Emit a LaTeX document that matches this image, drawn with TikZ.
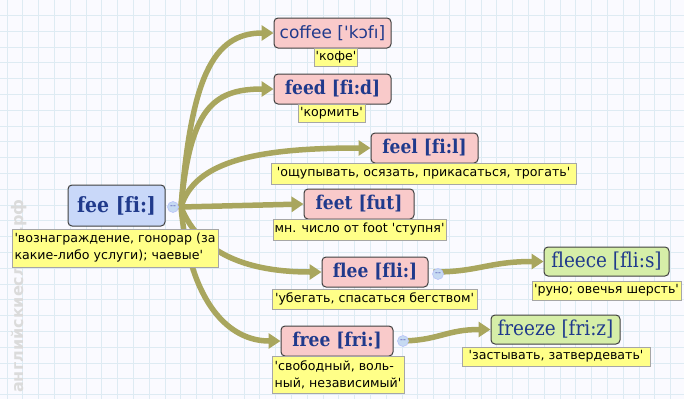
\documentclass[tikz,border=0pt]{standalone}
\usepackage{fontspec}
\usetikzlibrary{arrows.meta}
\newfontfamily\hwfont{DejaVu Serif Condensed}[Ligatures={NoCommon}]
\newfontfamily\trfont{DejaVu Sans}[Ligatures=TeXOff]
\newfontfamily\sanshw{DejaVu Sans}[Ligatures=TeXOff]
\definecolor{wordblue}{RGB}{32,58,140}
\definecolor{headpink}{RGB}{249,202,202}
\definecolor{headblue}{RGB}{201,216,249}
\definecolor{headgreen}{RGB}{214,238,168}
\definecolor{tryellow}{RGB}{255,255,136}
\definecolor{branchol}{RGB}{169,166,94}
\definecolor{gridblue}{RGB}{222,235,243}
\definecolor{knobblue}{RGB}{198,218,242}
\pgfdeclarelayer{paper}
\pgfdeclarelayer{branches}
\pgfsetlayers{paper,branches,main}
\tikzset{
  headbox/.style={draw=black!75, line width=1pt, rounded corners=4pt,
    text=wordblue, inner sep=0pt, minimum height=30pt},
  boldword/.style={headbox, font=\hwfont\bfseries\fontsize{19}{22}\selectfont},
  plainword/.style={headbox, font=\hwfont\fontsize{20.5}{22}\selectfont},
  transbox/.style={draw=black!35, line width=0.8pt, fill=tryellow, inner sep=1pt,
    minimum height=20pt, align=left, font=\trfont\fontsize{12.6}{17}\selectfont},
  branch/.style={draw=branchol, line width=5.5pt,
    -{Triangle[length=12pt,width=15pt]}},
  knob/.style={circle, draw=knobblue!70!blue!60, fill=knobblue, line width=0.6pt,
    minimum size=11pt, inner sep=0pt, text=blue!40!gray,
    font=\trfont\fontsize{8}{8}\selectfont}
}
\begin{document}
\begin{tikzpicture}[x=1pt, y=-1pt]
    \useasboundingbox (0,0) rectangle (684,399);
    % Sfondo a quadretti
    \begin{pgfonlayer}{paper}
    \fill[blue!2] (0,0) rectangle (684,399);
    \foreach \i in {0,...,43} \draw[gridblue, line width=0.8pt] ({7+15.8*\i},0) -- ++(0,399);
    \foreach \j in {0,...,25} \draw[gridblue, line width=0.8pt] (0,{15.3+15.8*\j}) -- ++(684,0);
    % Filigrana
    \node[rotate=90, anchor=west, text=black!14, inner sep=0pt,
      font=\sanshw\bfseries\fontsize{16}{16}\selectfont] (mark) at (19,393) {английскиеслова.рф};
    \end{pgfonlayer}

    % Parola principale
    \node[boldword, fill=headblue, minimum width=97pt, minimum height=41pt,
      font=\hwfont\bfseries\fontsize{21}{24}\selectfont] (fee) at (116.5,205.5) {fee [fi:]};
    \node[transbox, minimum width=206pt, minimum height=38pt] (feeTr) at (115,248)
      {'вознаграждение, гонорар (за\\какие-либо услуги); чаевые'};
    \coordinate (fork) at (181,207);

    % Parole collegate
    \node[headbox, fill=headpink, minimum width=117pt, font=\sanshw\fontsize{17}{20}\selectfont] (coffee) at (332.5,33) {coffee ['kɔfı]};
    \node[transbox, minimum width=42pt, minimum height=18pt] (coffeeTr) at (336,57) {'кофе'};

    \node[boldword, fill=headpink, minimum width=117pt] (feed) at (332.5,89) {feed [fi:d]};
    \node[transbox, minimum width=67pt, minimum height=18pt] (feedTr) at (331.5,113) {'кормить'};

    \node[boldword, fill=headpink, minimum width=107pt] (feel) at (424.5,148) {feel [fi:l]};
    \node[transbox, minimum width=305pt, minimum height=21pt] (feelTr) at (423.5,173.5)
      {'ощупывать, осязать, прикасаться, трогать'};

    \node[boldword, fill=headpink, minimum width=110pt] (feet) at (359,204) {feet [fut]};
    \node[transbox, minimum width=173pt, minimum height=21pt] (feetTr) at (359.5,229.5)
      {мн. число от foot 'ступня'};

    \node[boldword, fill=headpink, minimum width=106pt] (flee) at (375,272) {flee [fli:]};
    \node[transbox, minimum width=205pt] (fleeTr) at (374.5,299) {'убегать, спасаться бегством'};

    \node[plainword, fill=headgreen, minimum width=125pt, minimum height=29pt] (fleece) at (606.5,261.5) {fleece [fli:s]};
    \node[transbox, minimum width=149pt, minimum height=19pt] (fleeceTr) at (606.5,290.5) {'руно; овечья шерсть'};

    \node[boldword, fill=headpink, minimum width=112pt] (free) at (337,341) {free [fri:]};
    \node[transbox, minimum width=132pt, minimum height=37pt] (freeTr) at (338,374.5)
      {'свободный, воль-\\ный, независимый'};

    \node[plainword, fill=headgreen, minimum width=129pt, minimum height=29pt] (freeze) at (555.5,329.5) {freeze [fri:z]};
    \node[transbox, minimum width=188pt, minimum height=19pt] (freezeTr) at (556,356.5) {'застывать, затвердевать'};

    % Rami
    \begin{pgfonlayer}{branches}
    \draw[branch] (fork) .. controls (191,80) and (212,33) .. (coffee.west);
    \draw[branch] (fork) .. controls (190,110) and (212,89) .. (feed.west);
    \draw[branch] (fork) .. controls (195,160) and (260,148) .. (feel.west);
    \draw[branch] (fork) -- (feet.west);
    \draw[branch] (fork) .. controls (200,255) and (250,272) .. (flee.west);
    \draw[branch] (fork) .. controls (190,305) and (230,341) .. (free.west);
    \draw[branch] ([xshift=5pt]flee.east) .. controls +(45,0) and +(-55,0) .. (fleece.west);
    \draw[branch] ([xshift=5pt]free.east) .. controls +(40,0) and +(-45,0) .. (freeze.west);
    \end{pgfonlayer}

    % Pulsanti
    \node[knob] (feeKnob) at (173,207) {--};
    \node[knob] (fleeKnob) at (438,274) {--};
    \node[knob] (freeKnob) at (403,341) {--};
\end{tikzpicture}
\end{document}
